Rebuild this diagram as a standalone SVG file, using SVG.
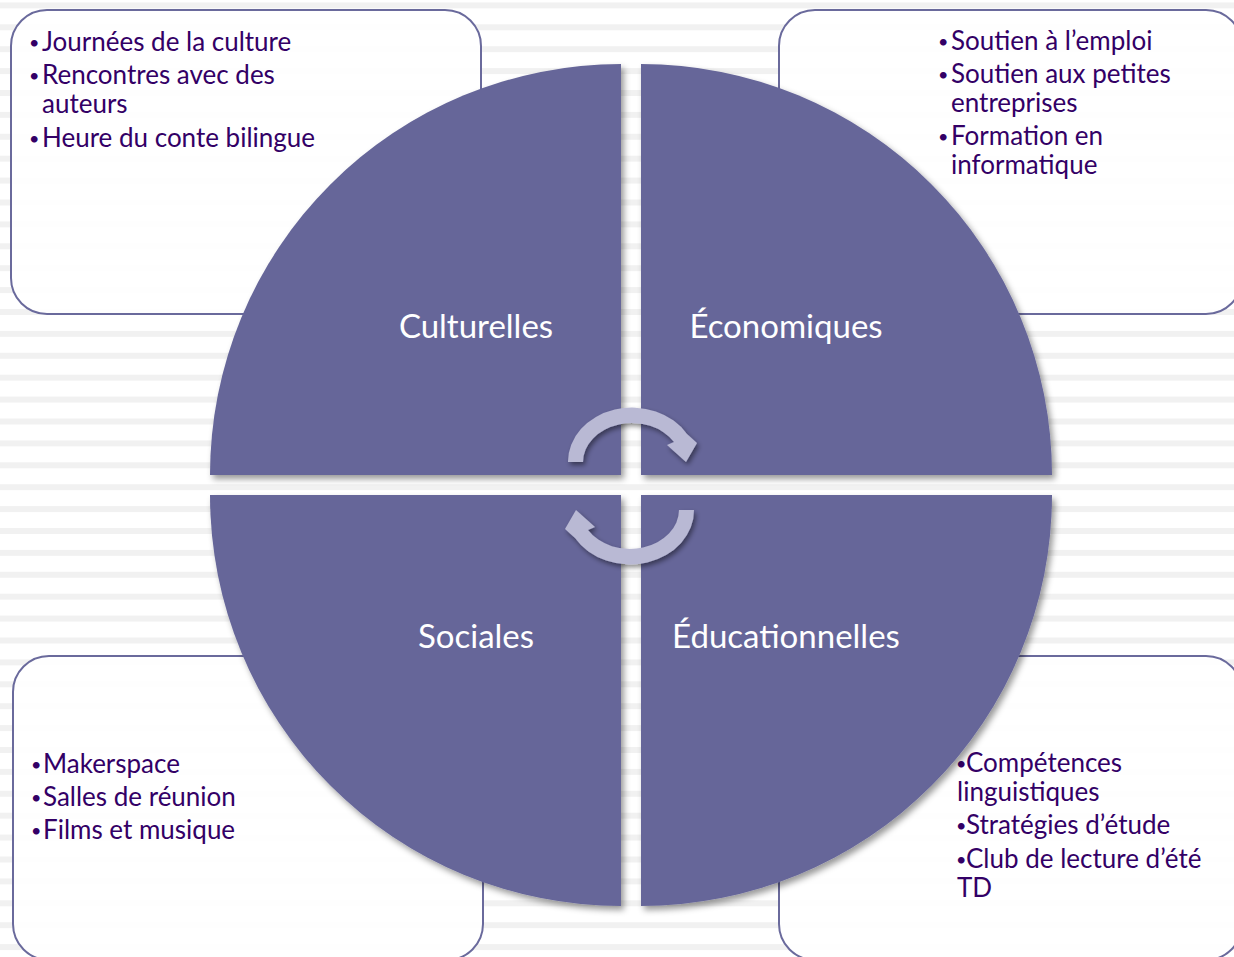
<svg xmlns="http://www.w3.org/2000/svg" width="1234" height="957" viewBox="0 0 1234 957">
<defs>
<pattern id="stripes" x="0" y="2.4" width="40" height="21.9" patternUnits="userSpaceOnUse">
<rect x="0" y="0" width="40" height="6" fill="#f1f1f1"/>
</pattern>
<filter id="qshadow" x="-10%" y="-10%" width="130%" height="130%">
<feDropShadow dx="3" dy="4" stdDeviation="3" flood-color="#000" flood-opacity="0.4"/>
</filter>
<filter id="ashadow" x="-20%" y="-20%" width="150%" height="150%">
<feDropShadow dx="2" dy="3" stdDeviation="2.5" flood-color="#000" flood-opacity="0.45"/>
</filter>
<style>
.box{fill:#ffffff;fill-opacity:0.88;stroke:#6a6a9c;stroke-width:2}
.quad{fill:#666699}
.lbl{font-family:Lato,"Liberation Sans",sans-serif;font-size:33px;fill:#ffffff;text-anchor:middle}
.item{font-family:Lato,"Liberation Sans",sans-serif;font-size:26px;fill:#330066}
.bul{font-family:Lato,"Liberation Sans",sans-serif;font-size:18px;fill:#330066}
.arrow{fill:#b9b9d4}
</style>
</defs>
<rect x="0" y="0" width="1234" height="957" fill="#ffffff"/>
<rect x="0" y="0" width="1234" height="957" fill="url(#stripes)"/>

<g id="box-culturelles">
<rect class="box" x="11" y="10" width="470" height="304" rx="36" ry="36"/>
<text class="bul" x="29" y="49">•</text>
<text class="item" x="42" y="51">Journées de la culture</text>
<text class="bul" x="29" y="82">•</text>
<text class="item" x="42" y="84">Rencontres avec des</text>
<text class="item" x="42" y="113">auteurs</text>
<text class="bul" x="29" y="145">•</text>
<text class="item" x="42" y="147">Heure du conte bilingue</text>
</g>
<g id="box-economiques">
<rect class="box" x="779" y="10" width="463" height="304" rx="36" ry="36"/>
<text class="bul" x="938" y="48">•</text>
<text class="item" x="951" y="50">Soutien à l’emploi</text>
<text class="bul" x="938" y="81">•</text>
<text class="item" x="951" y="83">Soutien aux petites</text>
<text class="item" x="951" y="112">entreprises</text>
<text class="bul" x="938" y="143">•</text>
<text class="item" x="951" y="145">Formation en</text>
<text class="item" x="951" y="174">informatique</text>
</g>
<g id="box-sociales">
<rect class="box" x="13" y="656" width="470" height="304" rx="36" ry="36"/>
<text class="bul" x="31" y="771">•</text>
<text class="item" x="43" y="773">Makerspace</text>
<text class="bul" x="31" y="804">•</text>
<text class="item" x="43" y="806">Salles de réunion</text>
<text class="bul" x="31" y="837">•</text>
<text class="item" x="43" y="839">Films et musique</text>
</g>
<g id="box-educationnelles">
<rect class="box" x="779" y="656" width="463" height="304" rx="36" ry="36"/>
<text class="bul" x="956" y="770">•</text>
<text class="item" x="966" y="772">Compétences</text>
<text class="item" x="957" y="801">linguistiques</text>
<text class="bul" x="956" y="832">•</text>
<text class="item" x="966" y="834">Stratégies d’étude</text>
<text class="bul" x="956" y="866">•</text>
<text class="item" x="966" y="868">Club de lecture d’été</text>
<text class="item" x="957" y="897">TD</text>
</g>

<g id="quad-culturelles">
<path class="quad" filter="url(#qshadow)" d="M 621 475 L 210 475 A 411 411 0 0 1 621 64 Z"/>
<text class="lbl" x="476" y="338">Culturelles</text>
</g>
<g id="quad-economiques">
<path class="quad" filter="url(#qshadow)" d="M 641 475 L 641 64 A 411 411 0 0 1 1052 475 Z"/>
<text class="lbl" x="786" y="338">Économiques</text>
</g>
<g id="quad-sociales">
<path class="quad" filter="url(#qshadow)" d="M 621 495 L 621 906 A 411 411 0 0 1 210 495 Z"/>
<text class="lbl" x="476" y="648">Sociales</text>
</g>
<g id="quad-educationnelles">
<path class="quad" filter="url(#qshadow)" d="M 641 495 L 1052 495 A 411 411 0 0 1 641 906 Z"/>
<text class="lbl" x="786" y="648">Éducationnelles</text>
</g>

<g id="connectors" filter="url(#ashadow)">
<path class="arrow" d="M 568 462 A 64 54 0 0 1 687 434 L 697 443 L 686 462 L 667 445 L 674 442 A 49 39 0 0 0 583 462 Z"/>
<path class="arrow" transform="rotate(180 631 486)" d="M 568 462 A 64 54 0 0 1 687 434 L 697 443 L 686 462 L 667 445 L 674 442 A 49 39 0 0 0 583 462 Z"/>
</g>
</svg>
